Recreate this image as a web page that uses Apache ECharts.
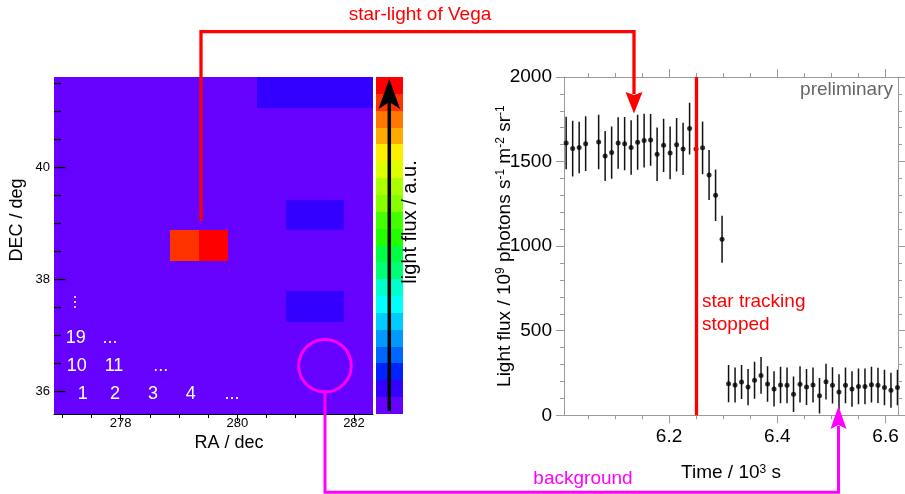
<!DOCTYPE html>
<html>
<head>
<meta charset="utf-8">
<script src="https://cdn.jsdelivr.net/npm/echarts@6/dist/echarts.min.js"></script>
<style>
html,body{margin:0;padding:0;background:#fff;}
#chart{width:905px;height:494px;}
</style>
</head>
<body>
<div id="chart"></div>
<script>
// ---------- sky map (left) ----------
const skyCols = ['0','1','2','3','4','5','6','7','8','9','10'];
const skyRowNames = ['0','1','2','3','4','5','6','7','8','9','10']; // top -> bottom
const skyRows = [
  [0,0,0,0,0,0,0,1,1,1,1],
  [0,0,0,0,0,0,0,0,0,0,0],
  [0,0,0,0,0,0,0,0,0,0,0],
  [0,0,0,0,0,0,0,0,0,0,0],
  [0,0,0,0,0,0,0,0,1,1,0],
  [0,0,0,0,18,19,0,0,0,0,0],
  [0,0,0,0,0,0,0,0,0,0,0],
  [0,0,0,0,0,0,0,0,1,1,0],
  [0,0,0,0,0,0,0,0,0,0,0],
  [0,0,0,0,0,0,0,0,0,0,0],
  [0,0,0,0,0,0,0,0,0,0,0]
];
const raMajorTicks = [278, 280, 282];
const raMinorTicks = [277, 277.5, 278.5, 279, 279.5, 280.5, 281, 281.5];
const decMajorTicks = [36, 38, 40];
const decMinorTicks = [36.5, 37, 37.5, 38.5, 39, 39.5, 40.5, 41, 41.5];

// colour scale (bottom -> top)
const paletteColors = ['#6600ff','#3300ff','#0022ff','#0066ff','#0099ff','#00ccff','#00ffff','#00ffcc','#00ff77','#00ff44',
                       '#22ff00','#44ff00','#88ff00','#aaff00','#ddff00','#ffee00','#ffaa00','#ff7700','#ff3300','#ff0000'];
const paletteLevels = [0,1,2,3,4,5,6,7,8,9,10,11,12,13,14,15,16,17,18,19];

// ---------- light curve (right) ----------
const timeValues = [6.010,6.022,6.034,6.046,6.070,6.082,6.094,6.106,6.118,6.130,6.142,6.154,6.166,6.178,6.190,6.202,6.214,6.226,6.238,6.250,6.262,6.274,6.286,6.298,
                    6.310,6.322,6.334,6.346,6.358,6.370,6.382,6.394,6.406,6.418,6.430,6.442,6.454,6.466,6.478,6.490,6.502,6.514,6.526,6.538,6.550,6.562,6.574,6.586,6.598,6.610,6.622];
const fluxValues = [1610,1577,1583,1606,1616,1533,1553,1610,1606,1583,1614,1624,1628,1543,1596,1551,1600,1575,1695,1575,1581,1421,1301,1041,
                    187,179,197,167,207,236,185,156,179,177,124,183,167,179,116,199,177,138,177,156,171,171,181,177,165,148,165];
const fluxErrors = [155,165,152,162,161,148,155,152,157,161,163,159,153,158,157,156,158,155,153,155,156,148,152,139,
                    110,104,100,107,109,108,105,104,108,106,105,107,106,104,105,106,107,104,106,105,106,105,106,104,105,104,105];
const timeMajorTicks = [6.2, 6.4, 6.6];
const timeMinorTicks = [6.05, 6.1, 6.15, 6.25, 6.3, 6.35, 6.45, 6.5, 6.55];
const trackingStopTime = 6.25;

const FONT = '"Liberation Sans", Arial, Helvetica, sans-serif';
const RA_MIN = 276.857, RA_MAX = 282.326, DEC_MIN = 35.589, DEC_MAX = 41.615;

const skyData = [];
skyRows.forEach((row, r) => row.forEach((v, c) => skyData.push([c, r, v])));
const barData = paletteLevels.map((v, i) => [0, i, v]);
const pointData = timeValues.map((t, i) => [t, fluxValues[i]]);
const errData = timeValues.map((t, i) => [t, fluxValues[i], fluxErrors[i]]);
const decTickData = decMajorTicks.map(v => [RA_MIN, v, 12]).concat(decMinorTicks.map(v => [RA_MIN, v, 7]));

const chart = echarts.init(document.getElementById('chart'), null, {renderer: 'canvas'});

const gray = '#9a9a9a';
function catAxis(gridIndex, data, inverse) {
  return {type: 'category', gridIndex, data, show: false, inverse: !!inverse, boundaryGap: true};
}
// cell renderer: rectangles snapped to whole pixels so neighbouring cells have no seams
function cellRenderer(params, api) {
  const c = api.coord([api.value(0), api.value(1)]);
  const s = api.size([1, 1]);
  const x0 = Math.round(c[0] - s[0] / 2), x1 = Math.round(c[0] + s[0] / 2);
  const y0 = Math.round(c[1] - s[1] / 2), y1 = Math.round(c[1] + s[1] / 2);
  return {type: 'rect', shape: {x: x0, y: y0, width: x1 - x0, height: y1 - y0},
          style: {fill: api.visual('color')}};
}

const option = {
  animation: false,
  textStyle: {fontFamily: FONT},
  grid: [
    {left: 54, top: 77, width: 319, height: 337},
    {left: 375.5, top: 77, width: 27, height: 337},
    {left: 564, top: 77, width: 334, height: 338.3}
  ],
  visualMap: {
    type: 'piecewise', show: false, dimension: 2, seriesIndex: [0, 1],
    pieces: paletteLevels.map((v, i) => ({value: v, color: paletteColors[i]}))
  },
  xAxis: [
    catAxis(0, skyCols),                                   // 0
    {type: 'value', gridIndex: 0, min: RA_MIN, max: RA_MAX, position: 'bottom', zlevel: 1, z: 10,   // 1
     axisLine: {show: true, lineStyle: {color: '#000', width: 1}},
     axisTick: {show: true, customValues: raMajorTicks, length: 7, lineStyle: {color: '#000'}},
     axisLabel: {show: true, customValues: raMajorTicks, fontSize: 13, color: '#000', margin: 3, fontFamily: FONT},
     splitLine: {show: false}},
    {type: 'value', gridIndex: 0, min: RA_MIN, max: RA_MAX, position: 'bottom', zlevel: 1, z: 10,   // 2
     axisLine: {show: false},
     axisTick: {show: true, customValues: raMinorTicks, length: 4, lineStyle: {color: '#000'}},
     axisLabel: {show: false}, splitLine: {show: false}},
    catAxis(1, ['']),                                      // 3
    {type: 'value', gridIndex: 2, min: 6.006, max: 6.623, position: 'bottom',   // 4
     axisLine: {show: true, lineStyle: {color: gray, width: 1}},
     axisTick: {show: true, customValues: timeMajorTicks, length: 8, lineStyle: {color: gray}},
     axisLabel: {show: true, customValues: timeMajorTicks, fontSize: 19, color: '#000', margin: 12, fontFamily: FONT},
     splitLine: {show: false},
     name: 'Time / 10{sup|3} s', nameLocation: 'middle', nameGap: 48, nameMoveOverlap: false,
     nameTextStyle: {fontSize: 19, color: '#000', fontFamily: FONT,
       rich: {sup: {fontSize: 12, verticalAlign: 'top', color: '#000', fontFamily: FONT}}}},
    {type: 'value', gridIndex: 2, min: 6.006, max: 6.623, position: 'bottom',   // 5
     axisLine: {show: false},
     axisTick: {show: true, customValues: timeMinorTicks, length: 4, lineStyle: {color: gray}},
     axisLabel: {show: false}, splitLine: {show: false}},
    {type: 'value', gridIndex: 2, min: 6.006, max: 6.623, position: 'top',      // 6
     axisLine: {show: true, lineStyle: {color: gray, width: 1}},
     axisTick: {show: true, customValues: timeMajorTicks, length: 8, lineStyle: {color: gray}},
     axisLabel: {show: false}, splitLine: {show: false}},
    {type: 'value', gridIndex: 2, min: 6.006, max: 6.623, position: 'top',      // 7
     axisLine: {show: false},
     axisTick: {show: true, customValues: timeMinorTicks, length: 4, lineStyle: {color: gray}},
     axisLabel: {show: false}, splitLine: {show: false}}
  ],
  yAxis: [
    catAxis(0, skyRowNames, true),                         // 0
    {type: 'value', gridIndex: 0, min: DEC_MIN, max: DEC_MAX, position: 'left', zlevel: 1, z: 10,   // 1
     axisLine: {show: false},
     axisTick: {show: false},
     axisLabel: {show: true, customValues: decMajorTicks, fontSize: 13, color: '#000', margin: 4, fontFamily: FONT},
     splitLine: {show: false}},
    catAxis(1, paletteLevels.map(String)),                 // 2
    {type: 'value', gridIndex: 2, min: 0, max: 2000, interval: 500, position: 'left',   // 3
     axisLine: {show: true, lineStyle: {color: gray, width: 1}},
     axisTick: {show: true, length: 8, lineStyle: {color: gray}},
     minorTick: {show: true, splitNumber: 5, length: 4, lineStyle: {color: gray}},
     axisLabel: {show: true, fontSize: 19, color: '#000', margin: 12, fontFamily: FONT,
                 formatter: function (v) { return String(v); }},
     splitLine: {show: false},
     name: 'Light flux / 10{sup|9} photons s{sup|-1} m{sup|-2} sr{sup|-1}',
     nameLocation: 'middle', nameGap: 50, nameMoveOverlap: false,
     nameTextStyle: {fontSize: 19, color: '#000', fontFamily: FONT,
       rich: {sup: {fontSize: 12, verticalAlign: 'top', color: '#000', fontFamily: FONT}}}},
    {type: 'value', gridIndex: 2, min: 0, max: 2000, interval: 500, position: 'right',  // 4
     axisLine: {show: true, lineStyle: {color: gray, width: 1}},
     axisTick: {show: true, length: 8, lineStyle: {color: gray}},
     minorTick: {show: true, splitNumber: 5, length: 4, lineStyle: {color: gray}},
     axisLabel: {show: false}, splitLine: {show: false}}
  ],
  series: [
    {type: 'custom', xAxisIndex: 0, yAxisIndex: 0, data: skyData, silent: true, z: 1,
     encode: {x: 0, y: 1}, renderItem: cellRenderer},
    {type: 'custom', xAxisIndex: 3, yAxisIndex: 2, data: barData, silent: true, z: 1,
     encode: {x: 0, y: 1}, renderItem: cellRenderer},
    // DEC ticks pointing into the sky map
    {type: 'custom', xAxisIndex: 1, yAxisIndex: 1, data: decTickData, silent: true, z: 5, zlevel: 1, clip: false,
     encode: {x: 0, y: 1},
     renderItem: function (params, api) {
       const p = api.coord([api.value(0), api.value(1)]);
       const y = Math.round(p[1]) + 0.5;
       return {type: 'line', shape: {x1: p[0], y1: y, x2: p[0] + api.value(2), y2: y},
               style: {stroke: '#000', lineWidth: 1.3}};
     }},
    {type: 'custom', xAxisIndex: 4, yAxisIndex: 3, data: errData, silent: true, z: 3, clip: true,
     encode: {x: 0, y: 1},
     renderItem: function (params, api) {
       const x = api.value(0), y = api.value(1), e = api.value(2);
       const p1 = api.coord([x, y - e]);
       const p2 = api.coord([x, y + e]);
       return {type: 'line', shape: {x1: p1[0], y1: p1[1], x2: p2[0], y2: p2[1]},
               style: {stroke: '#111', lineWidth: 1.5}};
     }},
    {type: 'scatter', xAxisIndex: 4, yAxisIndex: 3, data: pointData, symbol: 'circle', symbolSize: 5,
     itemStyle: {color: '#000'}, silent: true, z: 4},
    {type: 'scatter', xAxisIndex: 4, yAxisIndex: 3, data: [], silent: true, z: 6,
     markLine: {silent: true, symbol: 'none', label: {show: false}, animation: false,
       lineStyle: {color: '#ff0000', width: 3.3, type: 'solid'},
       emphasis: {disabled: true},
       data: [{xAxis: trackingStopTime}]}}
  ],
  graphic: [
    // red connector: Vega pixels -> light curve
    {type: 'polyline', zlevel: 2, z: 100, shape: {points: [[201, 221], [201, 31.7], [634, 31.7], [634, 94]]},
     style: {stroke: '#ff0000', lineWidth: 3.3, fill: null}},
    {type: 'polygon', zlevel: 2, z: 100, shape: {points: [[634, 113.5], [625.5, 92], [634, 95], [642.5, 92]]},
     style: {fill: '#ff0000'}},
    {type: 'text', zlevel: 2, z: 100, x: 420, y: 15,
     style: {text: 'star-light of Vega', fill: '#ff0000', font: '19px ' + FONT, align: 'center', verticalAlign: 'middle'}},
    // colour bar arrow
    {type: 'line', zlevel: 2, z: 100, shape: {x1: 389.3, y1: 411, x2: 389.3, y2: 100},
     style: {stroke: '#000', lineWidth: 3.5}},
    {type: 'polygon', zlevel: 2, z: 100, shape: {points: [[389.3, 79], [378.5, 109], [389.3, 102], [400.1, 109]]},
     style: {fill: '#000'}},
    {type: 'text', zlevel: 2, z: 100, x: 410, y: 222, rotation: Math.PI / 2,
     style: {text: 'light flux / a.u.', fill: '#000', font: '20px ' + FONT, align: 'center', verticalAlign: 'middle'}},
    // left axis names
    {type: 'text', zlevel: 2, z: 100, x: 17.5, y: 220, rotation: Math.PI / 2,
     style: {text: 'DEC / deg', fill: '#000', font: '18px ' + FONT, align: 'center', verticalAlign: 'middle'}},
    {type: 'text', zlevel: 2, z: 100, x: 229, y: 443,
     style: {text: 'RA / dec', fill: '#000', font: '18px ' + FONT, align: 'center', verticalAlign: 'middle'}},
    // pixel numbering
    {type: 'text', zlevel: 2, z: 100, x: 82.7, y: 394, style: {text: '1', fill: '#fff', font: '18px ' + FONT, align: 'center', verticalAlign: 'middle'}},
    {type: 'text', zlevel: 2, z: 100, x: 115, y: 394, style: {text: '2', fill: '#fff', font: '18px ' + FONT, align: 'center', verticalAlign: 'middle'}},
    {type: 'text', zlevel: 2, z: 100, x: 153, y: 394, style: {text: '3', fill: '#fff', font: '18px ' + FONT, align: 'center', verticalAlign: 'middle'}},
    {type: 'text', zlevel: 2, z: 100, x: 190.7, y: 394, style: {text: '4', fill: '#fff', font: '18px ' + FONT, align: 'center', verticalAlign: 'middle'}},
    {type: 'text', zlevel: 2, z: 100, x: 232, y: 394, style: {text: '...', fill: '#fff', font: '18px ' + FONT, align: 'center', verticalAlign: 'middle'}},
    {type: 'text', zlevel: 2, z: 100, x: 76.7, y: 366, style: {text: '10', fill: '#fff', font: '18px ' + FONT, align: 'center', verticalAlign: 'middle'}},
    {type: 'text', zlevel: 2, z: 100, x: 114, y: 366, style: {text: '11', fill: '#fff', font: '18px ' + FONT, align: 'center', verticalAlign: 'middle'}},
    {type: 'text', zlevel: 2, z: 100, x: 160.7, y: 366, style: {text: '...', fill: '#fff', font: '18px ' + FONT, align: 'center', verticalAlign: 'middle'}},
    {type: 'text', zlevel: 2, z: 100, x: 75.7, y: 338, style: {text: '19', fill: '#fff', font: '18px ' + FONT, align: 'center', verticalAlign: 'middle'}},
    {type: 'text', zlevel: 2, z: 100, x: 110, y: 338, style: {text: '...', fill: '#fff', font: '18px ' + FONT, align: 'center', verticalAlign: 'middle'}},
    {type: 'text', zlevel: 2, z: 100, x: 71, y: 302, rotation: Math.PI / 2,
     style: {text: '...', fill: '#fff', font: '18px ' + FONT, align: 'center', verticalAlign: 'middle'}},
    // background circle and magenta connector
    {type: 'circle', zlevel: 2, z: 100, shape: {cx: 325, cy: 365.7, r: 26.3},
     style: {stroke: '#ff00ff', lineWidth: 3, fill: null}},
    {type: 'polyline', zlevel: 2, z: 100, shape: {points: [[325, 392], [325, 492.3], [838.5, 492.3], [838.5, 426]]},
     style: {stroke: '#ff00ff', lineWidth: 3, fill: null}},
    {type: 'polygon', zlevel: 2, z: 100, shape: {points: [[838.5, 406], [830.5, 429], [838.5, 425], [846.5, 429]]},
     style: {fill: '#ff00ff'}},
    {type: 'text', zlevel: 2, z: 100, x: 583, y: 479,
     style: {text: 'background', fill: '#ff00ff', font: '19px ' + FONT, align: 'center', verticalAlign: 'middle'}},
    // right plot annotations
    {type: 'text', zlevel: 2, z: 100, x: 893, y: 90,
     style: {text: 'preliminary', fill: '#666', font: '19px ' + FONT, align: 'right', verticalAlign: 'middle'}},
    {type: 'text', zlevel: 2, z: 100, x: 702, y: 290,
     style: {text: 'star tracking\nstopped', fill: '#ff0000', font: '19px ' + FONT, lineHeight: 23, align: 'left', verticalAlign: 'top'}}
  ]
};
chart.setOption(option);
</script>
</body>
</html>
